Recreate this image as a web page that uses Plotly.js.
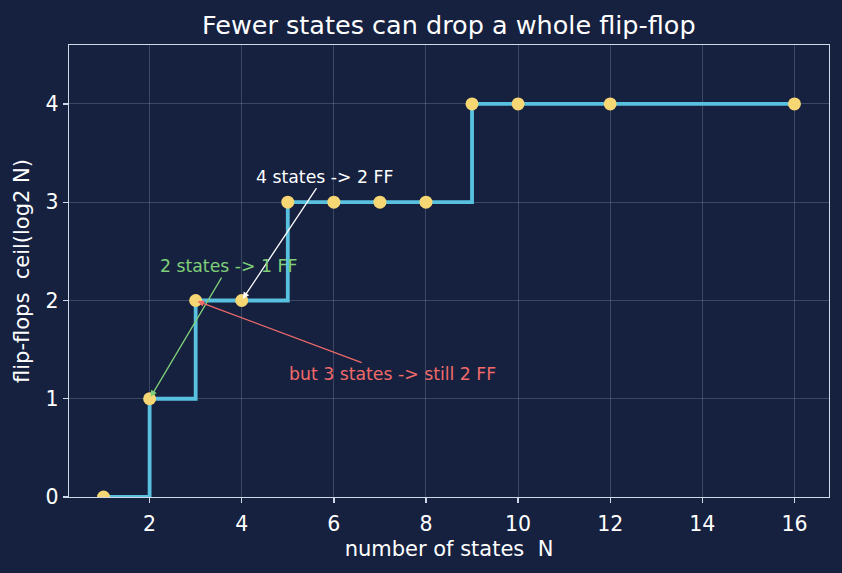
<!DOCTYPE html>
<html>
<head>
<meta charset="utf-8">
<script src="https://cdn.plot.ly/plotly-3.0.1.min.js"></script>
<style>
  html, body { margin: 0; padding: 0; background: #16213f; }
  #chart { width: 842px; height: 573px; }
</style>
</head>
<body>
<div id="chart"></div>
<script>
// number of states and the flip-flops needed to encode them
const states = [1, 2, 3, 4, 5, 6, 7, 8, 9, 10, 12, 16];
const flipFlops = [0, 1, 2, 2, 3, 3, 3, 3, 4, 4, 4, 4];

const xTicks = [2, 4, 6, 8, 10, 12, 14, 16];
const yTicks = [0, 1, 2, 3, 4];

// callouts: target state index, label, label position, colour
const noteTargets = [3, 1, 2];
const noteTexts = ['4 states -> 2 FF', '2 states -> 1 FF', 'but 3 states -> still 2 FF'];
const noteX = [5.79, 3.71, 7.27];
const noteY = [3.26, 2.35, 1.25];
const noteColors = ['#ffffff', '#7fcf78', '#f06a6a'];

const bg = '#16213f';
const axisColor = '#cfd8e6';
const gridColor = 'rgba(200,210,230,0.22)';
const font = 'DejaVu Sans, sans-serif';

const stepTrace = {
  x: states, y: flipFlops,
  type: 'scatter', mode: 'lines',
  line: { shape: 'hv', color: '#58c1df', width: 3.8 },
  hoverinfo: 'skip'
};
const pointTrace = {
  x: states, y: flipFlops,
  type: 'scatter', mode: 'markers',
  marker: { color: '#f7d774', size: 13 }
};

const annotations = noteTargets.map((idx, i) => ({
  x: states[idx], y: flipFlops[idx],
  xref: 'x', yref: 'y',
  ax: noteX[i], ay: noteY[i], axref: 'x', ayref: 'y',
  text: noteTexts[i],
  font: { family: font, size: 17.3, color: noteColors[i] },
  showarrow: true, arrowhead: 2, arrowsize: 1, arrowwidth: 1.3,
  arrowcolor: noteColors[i], standoff: 2
}));

const layout = {
  width: 842, height: 573,
  paper_bgcolor: bg, plot_bgcolor: bg,
  margin: { l: 69, r: 13, t: 45, b: 76 },
  showlegend: false,
  font: { family: font, color: '#ffffff' },
  title: {
    text: 'Fewer states can drop a whole flip-flop',
    font: { family: font, size: 25.5, color: '#ffffff' },
    x: 0.533, xanchor: 'center', y: 0.956, yanchor: 'middle'
  },
  xaxis: {
    range: [0.25, 16.75],
    tickvals: xTicks,
    ticks: 'outside', ticklen: 5, tickwidth: 1.3, tickcolor: axisColor,
    ticklabelstandoff: 3,
    tickfont: { family: font, size: 20.5, color: '#ffffff' },
    showline: true, mirror: true, linecolor: axisColor, linewidth: 1.3,
    showgrid: true, gridcolor: gridColor, gridwidth: 1,
    zeroline: false,
    title: { text: 'number of states  N', font: { family: font, size: 21, color: '#ffffff' }, standoff: 6 }
  },
  yaxis: {
    range: [0, 4.6],
    tickvals: yTicks,
    ticks: 'outside', ticklen: 5, tickwidth: 1.3, tickcolor: axisColor,
    tickfont: { family: font, size: 20.5, color: '#ffffff' },
    showline: true, mirror: true, linecolor: axisColor, linewidth: 1.3,
    showgrid: true, gridcolor: gridColor, gridwidth: 1,
    zeroline: false,
    title: { text: 'flip-flops  ceil(log2 N)', font: { family: font, size: 21, color: '#ffffff' }, standoff: 10 }
  },
  annotations: annotations
};

Plotly.newPlot('chart', [stepTrace, pointTrace], layout, { displayModeBar: false, staticPlot: true });
</script>
</body>
</html>
